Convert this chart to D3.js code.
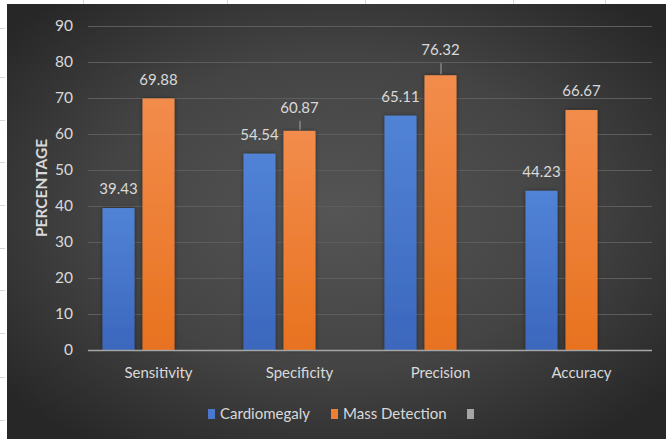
<!DOCTYPE html>
<html>
<head>
<meta charset="utf-8">
<script src="https://cdn.jsdelivr.net/npm/d3@7"></script>
<style>
  html, body { margin: 0; padding: 0; background: #ffffff; }
  svg { display: block; }
  text { font-family: Lato, "Open Sans", sans-serif; }
</style>
</head>
<body>
<script>
// Chart data
const categories = ["Sensitivity", "Specificity", "Precision", "Accuracy"];
const seriesNames = ["Cardiomegaly", "Mass Detection", ""];
const cardiomegaly = [39.43, 54.54, 65.11, 44.23];
const massDetection = [69.88, 60.87, 76.32, 66.67];
const yTicks = [0, 10, 20, 30, 40, 50, 60, 70, 80, 90];
const yTitle = "PERCENTAGE";

const W = 666, H = 439;
const svg = d3.select("body").append("svg").attr("width", W).attr("height", H);
const defs = svg.append("defs");

// dark radial backdrop
const bg = defs.append("radialGradient").attr("id", "bg")
  .attr("cx", "50%").attr("cy", "48%").attr("r", "65%");
bg.append("stop").attr("offset", "0%").attr("stop-color", "#555555");
bg.append("stop").attr("offset", "55%").attr("stop-color", "#444444");
bg.append("stop").attr("offset", "100%").attr("stop-color", "#272727");

function barGrad(id, top, bottom) {
  const g = defs.append("linearGradient").attr("id", id)
    .attr("x1", 0).attr("y1", 0).attr("x2", 0).attr("y2", 1);
  g.append("stop").attr("offset", "0%").attr("stop-color", top);
  g.append("stop").attr("offset", "100%").attr("stop-color", bottom);
}
barGrad("gBlue", "#5183d6", "#3b67bd");
barGrad("gOrange", "#f28c4c", "#e8721f");

const shadow = defs.append("filter").attr("id", "glow")
  .attr("x", "-30%").attr("y", "-10%").attr("width", "160%").attr("height", "120%");
shadow.append("feGaussianBlur").attr("in", "SourceAlpha").attr("stdDeviation", 2).attr("result", "b");
shadow.append("feComponentTransfer").attr("in", "b").attr("result", "s")
  .append("feFuncA").attr("type", "linear").attr("slope", 0.45);
const fm = shadow.append("feMerge");
fm.append("feMergeNode").attr("in", "s");
fm.append("feMergeNode").attr("in", "SourceGraphic");

// sheet margin and chart area
svg.append("rect").attr("x", 7).attr("y", 4).attr("width", W - 7).attr("height", H - 4)
  .attr("fill", "url(#bg)");
const sheetLines = svg.append("g").attr("stroke", "#d8d8d8").attr("stroke-width", 1);
[83, 227, 365, 513, 605].forEach(x =>
  sheetLines.append("line").attr("x1", x + 0.5).attr("x2", x + 0.5).attr("y1", 0).attr("y2", 4));
[28, 77, 120, 162, 205, 248, 290, 333, 377, 420].forEach(y =>
  sheetLines.append("line").attr("x1", 0).attr("x2", 5).attr("y1", y + 0.5).attr("y2", y + 0.5));

// scales
const plot = { left: 88, right: 652, top: 26, bottom: 350 };
const y = d3.scaleLinear().domain([0, 90]).range([plot.bottom, plot.top]);
const x0 = d3.scaleBand().domain(categories).range([plot.left, plot.right]).padding(0);
const x1 = d3.scaleBand().domain(seriesNames)
  .range([14.5, x0.bandwidth() - 14.5]).paddingInner(0.2).paddingOuter(0);

const textCol = "#d9d9d9";

// gridlines
svg.append("g").selectAll("line").data(yTicks.filter(t => t > 0)).join("line")
  .attr("x1", plot.left).attr("x2", plot.right)
  .attr("y1", d => Math.round(y(d)) + 0.5).attr("y2", d => Math.round(y(d)) + 0.5)
  .attr("stroke", "#5d5d5d").attr("stroke-width", 1);

// y axis labels
const yAxis = svg.append("g").attr("transform", `translate(${plot.left},0)`)
  .call(d3.axisLeft(y).tickValues(yTicks).tickSize(0).tickPadding(15));
yAxis.select(".domain").remove();
yAxis.selectAll("text").attr("fill", textCol).attr("font-size", 15.5)
  .attr("font-family", "Lato, sans-serif");

// y title
svg.append("text").attr("transform", `translate(47,188) rotate(-90)`)
  .attr("text-anchor", "middle").attr("fill", textCol)
  .attr("font-size", 15.5).attr("font-weight", "bold").text(yTitle);

// bars
const rows = categories.map((c, i) => ({
  cat: c,
  vals: [
    { s: seriesNames[0], v: cardiomegaly[i], fill: "url(#gBlue)" },
    { s: seriesNames[1], v: massDetection[i], fill: "url(#gOrange)" }
  ]
}));

// labels lifted away from their bars carry a leader line
const lifted = { "Specificity|Mass Detection": 23, "Precision|Mass Detection": 25 };

const groups = svg.append("g").selectAll("g").data(rows).join("g")
  .attr("transform", d => `translate(${x0(d.cat)},0)`);

groups.selectAll("rect").data(d => d.vals).join("rect")
  .attr("x", d => x1(d.s)).attr("width", x1.bandwidth())
  .attr("y", d => y(d.v)).attr("height", d => y(0) - y(d.v))
  .attr("fill", d => d.fill).attr("filter", "url(#glow)");

groups.each(function (row) {
  const g = d3.select(this);
  row.vals.forEach(d => {
    const key = row.cat + "|" + d.s;
    const lift = lifted[key] || 19;
    const cx = x1(d.s) + x1.bandwidth() / 2;
    const cy = y(d.v) - lift;
    g.append("text").attr("x", cx).attr("y", cy).attr("dy", "0.35em")
      .attr("text-anchor", "middle").attr("fill", textCol).attr("font-size", 15)
      .text(d3.format(".2f")(d.v));
    if (lifted[key]) {
      g.append("line").attr("x1", cx + 0.5).attr("x2", cx + 0.5)
        .attr("y1", cy + 13).attr("y2", y(d.v) - 1)
        .attr("stroke", "#a6a6a6").attr("stroke-width", 1);
    }
  });
});

// baseline
svg.append("line").attr("x1", plot.left).attr("x2", plot.right)
  .attr("y1", plot.bottom + 0.5).attr("y2", plot.bottom + 0.5)
  .attr("stroke", "#a6a6a6").attr("stroke-width", 1.5);

// category axis
const xAxis = svg.append("g").attr("transform", `translate(0,${plot.bottom})`)
  .call(d3.axisBottom(x0).tickSize(0).tickPadding(17));
xAxis.select(".domain").remove();
xAxis.selectAll("text").attr("fill", textCol).attr("font-size", 15)
  .attr("font-family", "Lato, sans-serif");

// legend
const legendItems = [
  { name: seriesNames[0], color: "#4a78cf", x: 208 },
  { name: seriesNames[1], color: "#ee7f33", x: 331 },
  { name: seriesNames[2], color: "#a5a5a5", x: 467 }
];
const lg = svg.append("g").selectAll("g").data(legendItems).join("g")
  .attr("transform", d => `translate(${d.x},414)`);
lg.append("rect").attr("x", 0).attr("y", -5).attr("width", 7).attr("height", 10)
  .attr("fill", d => d.color);
lg.append("text").attr("x", 12).attr("dy", "0.35em").attr("fill", textCol)
  .attr("font-size", 15).text(d => d.name);
</script>
</body>
</html>
